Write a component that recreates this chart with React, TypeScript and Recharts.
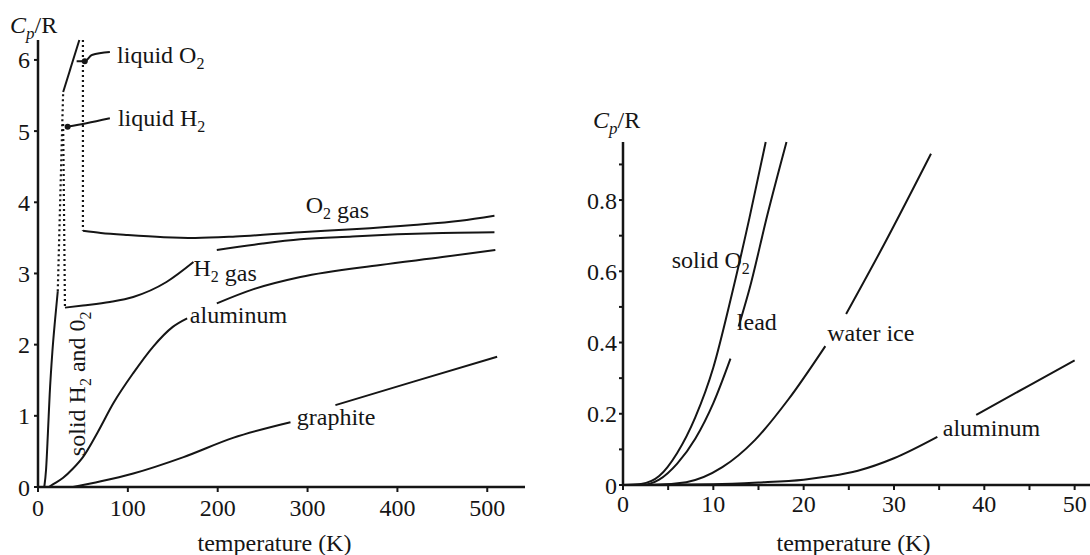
import { LineChart, Line, XAxis, YAxis, ReferenceDot } from 'recharts';

const FONT = '"Liberation Serif", "Times New Roman", serif';
const INK = '#151515';

// ---- left panel: 0 - 500 K ----
const solidT = [7, 9, 11, 13, 16, 19, 22];
const solidCp = [0, 0.25, 0.75, 1.3, 1.9, 2.35, 2.75];

const meltT = [22, 27, 28];
const meltCp = [2.75, 5.1, 5.55];

const h2BoilT = [28, 30];
const h2BoilCp = [5.1, 2.52];

const liqO2T = [28, 46];
const liqO2Cp = [5.55, 6.28];

const o2BoilT = [50, 50];
const o2BoilCp = [6.28, 3.6];

const o2GasT = [50, 70, 100, 140, 175, 220, 292, 350, 418, 470, 508];
const o2GasCp = [3.6, 3.57, 3.54, 3.51, 3.5, 3.52, 3.58, 3.62, 3.68, 3.74, 3.81];

const h2GasT = [30, 50, 80, 106, 143, 173, 186, 199, 250, 292, 350, 400, 450, 508];
const h2GasCp = [2.52, 2.55, 2.6, 2.67, 2.88, 3.16, null, 3.33, 3.42, 3.48, 3.52, 3.55, 3.57, 3.58];

const alT = [12, 17, 28, 39, 50, 66, 84, 106, 128, 150, 166, 182, 199, 240, 292, 381, 450, 509];
const alCp = [0, 0.04, 0.13, 0.26, 0.42, 0.76, 1.18, 1.6, 1.97, 2.25, 2.37, null, 2.58, 2.78, 2.95, 3.12, 3.23, 3.33];

const graphT = [39, 70, 106, 162, 217, 281, 306, 331, 418, 511];
const graphCp = [0, 0.08, 0.19, 0.42, 0.69, 0.91, null, 1.15, 1.48, 1.83];

const ptrO2T = [43, 52, 60, 80];
const ptrO2Cp = [5.98, 5.98, 6.07, 6.11];
const ptrH2T = [32, 54, 80];
const ptrH2Cp = [5.06, 5.11, 5.18];

const leftXTicks = [0, 100, 200, 300, 400, 500];
const leftYTicks = [0, 1, 2, 3, 4, 5, 6];

// ---- right panel: 0 - 50 K ----
const sO2T = [0, 2, 4, 6, 8, 10, 12, 14, 15.8];
const sO2Cp = [0, 0.003, 0.025, 0.09, 0.19, 0.33, 0.53, 0.75, 0.963];

const leadT = [0, 2, 4, 6, 8, 10, 11.9, 12.3, 12.8, 14, 16, 18.1];
const leadCp = [0, 0, 0.015, 0.06, 0.13, 0.23, 0.355, null, 0.445, 0.55, 0.76, 0.963];

const iceT = [0, 3, 7, 11, 14.6, 18.3, 22.4, 23.5, 24.7, 29, 34.1];
const iceCp = [0, 0, 0.008, 0.05, 0.126, 0.24, 0.39, null, 0.48, 0.68, 0.93];

const al2T = [0, 10, 15, 20, 23, 26, 30, 34.8, 37, 39.1, 45, 50];
const al2Cp = [0, 0.002, 0.007, 0.015, 0.025, 0.04, 0.075, 0.135, null, 0.197, 0.28, 0.35];

const rightXTicks = [0, 5, 10, 15, 20, 25, 30, 35, 40, 45, 50];
const rightYTicks = [0, 0.1, 0.2, 0.3, 0.4, 0.5, 0.6, 0.7, 0.8, 0.9];

// text parts: 0 normal, 1 subscript, 2 normal size on the subscript baseline
type Part = [string, number];
const leftNotes: { T: number; cp: number; parts: Part[]; rotate?: boolean }[] = [
  { T: 88, cp: 6.07, parts: [['liquid O', 0], ['2', 1]] },
  { T: 89, cp: 5.18, parts: [['liquid H', 0], ['2', 1]] },
  { T: 298, cp: 3.96, parts: [['O', 0], ['2', 1], [' gas', 2]] },
  { T: 173, cp: 3.08, parts: [['H', 0], ['2', 1], [' gas', 2]] },
  { T: 169, cp: 2.42, parts: [['aluminum', 0]] },
  { T: 288, cp: 0.98, parts: [['graphite', 0]] },
  { T: 43, cp: 1.45, parts: [['solid H', 0], ['2', 1], [' and 0', 0], ['2', 1]], rotate: true },
];
const rightNotes: { T: number; cp: number; parts: Part[] }[] = [
  { T: 5.4, cp: 0.632, parts: [['solid O', 0], ['2', 1]] },
  { T: 12.6, cp: 0.458, parts: [['lead', 0]] },
  { T: 22.6, cp: 0.427, parts: [['water ice', 0]] },
  { T: 35.4, cp: 0.16, parts: [['aluminum', 0]] },
];

const zip = (t: number[], cp: (number | null)[]) => t.map((T, i) => ({ T, cp: cp[i] }));

function Note({ cx, cy, parts, rotate }: { cx?: number; cy?: number; parts: Part[]; rotate?: boolean }) {
  if (cx == null || cy == null) return null;
  let cur = 0;
  const spans = parts.map(([t, lv], i) => {
    const off = lv === 0 ? 0 : lv === 1 ? 6 : 5;
    const dy = off - cur;
    cur = off;
    return (
      <tspan key={i} dy={dy} fontSize={lv === 1 ? 16 : 24}>
        {t}
      </tspan>
    );
  });
  return (
    <text
      x={cx}
      y={cy + 8}
      fill={INK}
      fontFamily={FONT}
      fontSize={24}
      textAnchor={rotate ? 'middle' : 'start'}
      transform={rotate ? `rotate(-90, ${cx}, ${cy})` : undefined}
    >
      {spans}
    </text>
  );
}

function CpLabel({ viewBox, dx, dy }: any) {
  if (!viewBox) return null;
  return (
    <text x={viewBox.x + dx} y={viewBox.y + dy} fill={INK} fontFamily={FONT} fontSize={24}>
      <tspan fontStyle="italic">C</tspan>
      <tspan fontStyle="italic" fontSize={17} dy={6}>p</tspan>
      <tspan dy={-6}>/R</tspan>
    </text>
  );
}

const tickStyle = { fill: INK, fontSize: 24, fontFamily: FONT };
const axisLine = { stroke: INK, strokeWidth: 2.5 };
const tickLine = { stroke: INK, strokeWidth: 2 };

const curve = (key: string, data: any[], dashed = false) => (
  <Line
    key={key}
    data={data}
    dataKey="cp"
    type={dashed ? 'linear' : 'monotone'}
    stroke={INK}
    strokeWidth={dashed ? 2.2 : 2}
    strokeDasharray={dashed ? '2 3' : undefined}
    dot={false}
    activeDot={false}
    connectNulls={false}
    isAnimationActive={false}
  />
);

export default function App() {
  return (
    <div style={{ position: 'absolute', left: 0, top: 0, width: 1090, height: 555, background: '#fff' }}>
      <div style={{ position: 'absolute', left: 0, top: 0 }}>
        <LineChart width={540} height={555} margin={{ top: 40, right: 15, bottom: 0, left: 8 }}>
          <XAxis
            type="number"
            dataKey="T"
            domain={[0, 542]}
            ticks={leftXTicks}
            height={68}
            tickSize={5}
            tickMargin={7}
            tick={tickStyle}
            axisLine={axisLine}
            tickLine={tickLine}
            label={{ value: 'temperature (K)', position: 'insideBottom', offset: 4, dx: -7, fill: INK, fontSize: 24, fontFamily: FONT }}
          />
          <YAxis
            type="number"
            domain={[0, 6.28]}
            ticks={leftYTicks}
            width={30}
            tickSize={4}
            tickMargin={4}
            tick={tickStyle}
            axisLine={axisLine}
            tickLine={tickLine}
            label={{ content: (p: any) => <CpLabel {...p} dx={2} dy={-7} /> }}
          />
          {curve('solid', zip(solidT, solidCp))}
          {curve('melt', zip(meltT, meltCp), true)}
          {curve('h2boil', zip(h2BoilT, h2BoilCp), true)}
          {curve('liqO2', zip(liqO2T, liqO2Cp))}
          {curve('o2boil', zip(o2BoilT, o2BoilCp), true)}
          {curve('o2gas', zip(o2GasT, o2GasCp))}
          {curve('h2gas', zip(h2GasT, h2GasCp))}
          {curve('al', zip(alT, alCp))}
          {curve('graphite', zip(graphT, graphCp))}
          {curve('ptrO2', zip(ptrO2T, ptrO2Cp))}
          {curve('ptrH2', zip(ptrH2T, ptrH2Cp))}
          <ReferenceDot x={52} y={5.98} r={3} fill={INK} stroke="none" />
          <ReferenceDot x={33} y={5.06} r={3} fill={INK} stroke="none" />
          {leftNotes.map((n, i) => (
            <ReferenceDot
              key={i}
              x={n.T}
              y={n.cp}
              r={0}
              shape={(p: any) => <Note cx={p.cx} cy={p.cy} parts={n.parts} rotate={n.rotate} />}
            />
          ))}
        </LineChart>
      </div>
      <div style={{ position: 'absolute', left: 540, top: 0 }}>
        <LineChart width={550} height={555} margin={{ top: 142, right: 0, bottom: 0, left: 23 }}>
          <XAxis
            type="number"
            dataKey="T"
            domain={[0, 51.7]}
            ticks={rightXTicks}
            tickFormatter={(v: number) => (v % 10 === 0 ? String(v) : '')}
            height={70}
            tickSize={5}
            tickMargin={5}
            tick={tickStyle}
            axisLine={axisLine}
            tickLine={tickLine}
            label={{ value: 'temperature (K)', position: 'insideBottom', offset: 4, dx: -3, fill: INK, fontSize: 24, fontFamily: FONT }}
          />
          <YAxis
            type="number"
            domain={[0, 0.963]}
            ticks={rightYTicks}
            tickFormatter={(v: number) => {
              const k = Math.round(v * 10);
              if (k === 0) return '0';
              return k % 2 === 0 ? v.toFixed(1) : '';
            }}
            width={60}
            tickSize={4}
            tickMargin={2}
            tick={tickStyle}
            axisLine={axisLine}
            tickLine={tickLine}
            label={{ content: (p: any) => <CpLabel {...p} dx={30} dy={-14} /> }}
          />
          {curve('sO2', zip(sO2T, sO2Cp))}
          {curve('lead', zip(leadT, leadCp))}
          {curve('ice', zip(iceT, iceCp))}
          {curve('al2', zip(al2T, al2Cp))}
          {rightNotes.map((n, i) => (
            <ReferenceDot
              key={i}
              x={n.T}
              y={n.cp}
              r={0}
              shape={(p: any) => <Note cx={p.cx} cy={p.cy} parts={n.parts} />}
            />
          ))}
        </LineChart>
      </div>
    </div>
  );
}
